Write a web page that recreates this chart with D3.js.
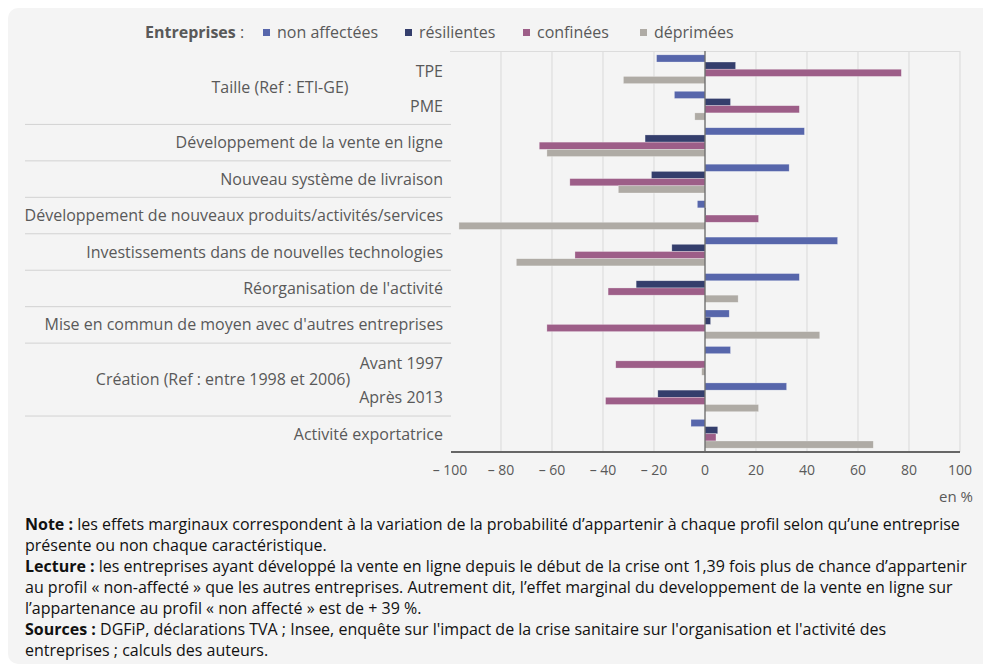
<!DOCTYPE html>
<html>
<head>
<meta charset="utf-8">
<script src="https://cdn.jsdelivr.net/npm/d3@7"></script>
<style>
  body { margin: 0; background: #fff; font-family: "Open Sans", sans-serif; }
  svg text { font-family: "Open Sans", sans-serif; }
</style>
</head>
<body>
<svg id="chart" width="983" height="671"></svg>
<script>
// categories, top to bottom
var categories = [
    "TPE", "PME",
    "Développement de la vente en ligne",
    "Nouveau système de livraison",
    "Développement de nouveaux produits/activités/services",
    "Investissements dans de nouvelles technologies",
    "Réorganisation de l'activité",
    "Mise en commun de moyen avec d'autres entreprises",
    "Avant 1997", "Après 2013",
    "Activité exportatrice"
];

// group labels spanning two categories
var groupLabels = ["Taille (Ref : ETI-GE)", "Création (Ref : entre 1998 et 2006)"];
var groupMembers = [["TPE", "PME"], ["Avant 1997", "Après 2013"]];

var seriesNames = ["non affectées", "résilientes", "confinées", "déprimées"];
var seriesColors = ["#5766ab", "#343e6c", "#9d5e88", "#afaba5"];

var nonAffectees = [-19, -12, 39, 33, -3, 52, 37, 9.5, 10, 32, -5.5];
var resilientes  = [12, 10, -23.5, -21, 0.3, -13, -27, 2.2, 0, -18.5, 5];
var confinees    = [77, 37, -65, -53, 21, -51, -38, -62, -35, -39, 4.3];
var deprimees    = [-32, -4, -62, -34, -96.5, -74, 13, 45, -1.3, 21, 66];

var xTicks = [-100, -80, -60, -40, -20, 0, 20, 40, 60, 80, 100];

var svg = d3.select('#chart');

// panel background
svg.append('rect')
    .attr('x', 8).attr('y', 8)
    .attr('width', 990).attr('height', 656)
    .attr('rx', 10)
    .attr('fill', '#f4f4f4');

var x = d3.scaleLinear().domain([-100, 100]).range([450, 960]);
var y = d3.scaleBand().domain(categories).range([51, 452])
    .paddingInner(0.21).paddingOuter(0.105);
var ySub = d3.scaleBand().domain(seriesNames).range([0, y.bandwidth()]);
var step = y.step();

// gridlines
svg.append('g').selectAll('line')
    .data(xTicks.filter(function(t) { return t !== 0 && t !== -100; }))
    .enter().append('line')
    .attr('x1', function(d) { return x(d); })
    .attr('x2', function(d) { return x(d); })
    .attr('y1', 51).attr('y2', 452)
    .attr('stroke', '#d9d9d9').attr('stroke-width', 1);

// top border of plot
svg.append('line')
    .attr('x1', 450).attr('x2', 960).attr('y1', 51.5).attr('y2', 51.5)
    .attr('stroke', '#dcdcdc');

// category separators in label area
var sepAfter = [1, 2, 3, 4, 5, 6, 7, 9];
svg.append('g').selectAll('line')
    .data(sepAfter)
    .enter().append('line')
    .attr('x1', 25).attr('x2', 451)
    .attr('y1', function(i) { return y(categories[i]) - y.paddingOuter() * step + step + 0.5; })
    .attr('y2', function(i) { return y(categories[i]) - y.paddingOuter() * step + step + 0.5; })
    .attr('stroke', '#d2d2d2');

// bars
var allSeries = [nonAffectees, resilientes, confinees, deprimees];
allSeries.forEach(function(vals, si) {
    svg.append('g').selectAll('rect')
        .data(vals)
        .enter().append('rect')
        .attr('x', function(d) { return x(Math.min(0, d)); })
        .attr('y', function(d, i) { return y(categories[i]) + ySub(seriesNames[si]); })
        .attr('width', function(d) { return Math.abs(x(d) - x(0)); })
        .attr('height', ySub.bandwidth())
        .attr('fill', seriesColors[si])
        .attr('stroke', 'rgba(255,255,255,0.45)')
        .attr('stroke-width', 0.6);
});

// zero line and bottom axis line
svg.append('line')
    .attr('x1', x(0)).attr('x2', x(0)).attr('y1', 51).attr('y2', 452)
    .attr('stroke', '#666').attr('stroke-width', 1.3);
svg.append('line')
    .attr('x1', 451).attr('x2', 960).attr('y1', 452).attr('y2', 452)
    .attr('stroke', '#666').attr('stroke-width', 2);

// x tick labels
svg.append('g').selectAll('text')
    .data(xTicks)
    .enter().append('text')
    .attr('x', function(d) { return x(d); })
    .attr('y', 475)
    .attr('text-anchor', 'middle')
    .attr('font-size', 14)
    .attr('fill', '#595959')
    .text(function(d) { return d < 0 ? '\u2013 ' + Math.abs(d) : String(d); });

svg.append('text')
    .attr('x', 973).attr('y', 502)
    .attr('text-anchor', 'end')
    .attr('font-size', 15).attr('fill', '#595959')
    .text('en %');

// category labels
svg.append('g').selectAll('text')
    .data(categories)
    .enter().append('text')
    .attr('x', 443)
    .attr('y', function(d) { return y(d) + y.bandwidth() / 2 + 6 + (d === 'TPE' || d === 'Avant 1997' ? 2 : 0); })
    .attr('text-anchor', 'end')
    .attr('font-size', 16)
    .attr('fill', '#595959')
    .text(function(d) { return d; });

// group labels
groupLabels.forEach(function(g, gi) {
    var a = y(groupMembers[gi][0]), b = y(groupMembers[gi][1]) + y.bandwidth();
    svg.append('text')
        .attr('x', gi === 0 ? 280 : 223)
        .attr('y', (a + b) / 2 + 6)
        .attr('text-anchor', 'middle')
        .attr('font-size', 16)
        .attr('fill', '#595959')
        .text(g);
});

// legend
var legend = svg.append('g');
legend.append('text')
    .attr('x', 145).attr('y', 38)
    .attr('font-size', 16).attr('fill', '#595959')
    .html('<tspan font-weight="bold">Entreprises</tspan> :');
var legX = [263, 405, 523, 640];
seriesNames.forEach(function(s, i) {
    legend.append('rect')
        .attr('x', legX[i]).attr('y', 29)
        .attr('width', 7).attr('height', 7)
        .attr('fill', seriesColors[i]);
    legend.append('text')
        .attr('x', legX[i] + 14).attr('y', 38)
        .attr('font-size', 16).attr('fill', '#595959')
        .text(s);
});

// notes
var notes = [
    ['Note :', ' les effets marginaux correspondent à la variation de la probabilité d’appartenir à chaque profil selon qu’une entreprise'],
    ['', 'présente ou non chaque caractéristique.'],
    ['Lecture :', ' les entreprises ayant développé la vente en ligne depuis le début de la crise ont 1,39 fois plus de chance d’appartenir'],
    ['', 'au profil « non-affecté » que les autres entreprises. Autrement dit, l’effet marginal du developpement de la vente en ligne sur'],
    ['', 'l’appartenance au profil « non affecté » est de + 39 %.'],
    ['Sources :', ' DGFiP, déclarations TVA ; Insee, enquête sur l\'impact de la crise sanitaire sur l\'organisation et l\'activité des'],
    ['', 'entreprises ; calculs des auteurs.']
];
var noteG = svg.append('g');
notes.forEach(function(n, i) {
    var t = noteG.append('text')
        .attr('x', 25).attr('y', 530 + i * 21)
        .attr('font-size', 16).attr('fill', '#111');
    if (n[0]) t.append('tspan').attr('font-weight', 'bold').text(n[0]);
    t.append('tspan').text(n[1]);
});
</script>
</body>
</html>
